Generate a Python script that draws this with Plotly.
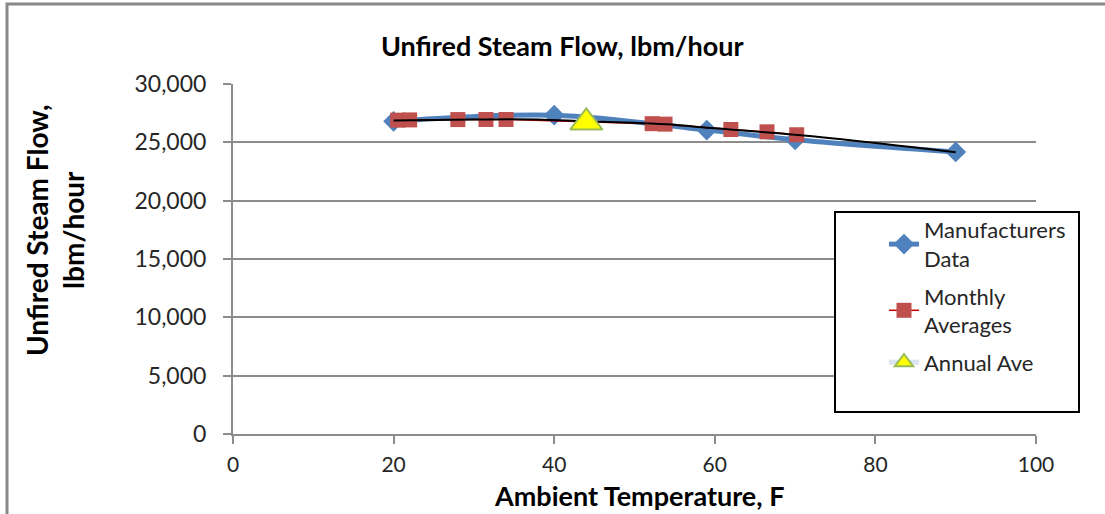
import plotly.graph_objects as go

# ---- data ----
mfr_temp = [20, 40, 59, 70, 90]
mfr_flow = [26800, 27330, 26050, 25220, 24180]

monthly_temp = [20.5, 22.0, 28.0, 31.5, 34.0, 52.2, 53.8, 62.0, 66.5, 70.2]
monthly_flow = [26900, 26920, 26950, 26960, 26960, 26600, 26560, 26100, 25900, 25650]

trend_temp = [20, 30, 38, 44, 50, 54, 60, 70, 80, 90]
trend_flow = [26880, 26960, 26960, 26800, 26680, 26540, 26200, 25650, 24950, 24150]

annual_temp = [44.0]
annual_flow = [26700]

x_ticks = [0, 20, 40, 60, 80, 100]
y_ticks = [0, 5000, 10000, 15000, 20000, 25000, 30000]

FONT = "Lato"
GRID = "#8c8c8c"

W, H = 1105, 514
L, R, T, B = 233, 1036, 84, 434
PW, PH = R - L, B - T


def px(xp):
    return (xp - L) / PW


def py(yp):
    return (B - yp) / PH


fig = go.Figure()

fig.add_trace(go.Scatter(
    x=mfr_temp, y=mfr_flow, name="Manufacturers<br>Data",
    mode="lines+markers",
    line=dict(color="#4f81bd", width=5, shape="spline", smoothing=1),
    marker=dict(symbol="diamond", size=16, color="#4f81bd"),
    legendgroup="a",
))
fig.add_trace(go.Scatter(
    x=monthly_temp, y=monthly_flow, name="Monthly<br>Averages",
    mode="lines+markers",
    line=dict(color="#c00000", width=1.5),
    marker=dict(symbol="square", size=15, color="#c0504d"),
    legendgroup="b",
))
fig.add_trace(go.Scatter(
    x=trend_temp, y=trend_flow, name="trend",
    mode="lines", line=dict(color="#000000", width=2, shape="spline"),
    showlegend=False, hoverinfo="skip",
))
fig.add_trace(go.Scatter(
    x=annual_temp, y=annual_flow, name="Annual Ave",
    mode="lines+markers",
    line=dict(color="#dce6f2", width=5),
    marker=dict(symbol="triangle-up", size=28, color="#ffff00",
                line=dict(color="#9bbb59", width=2)),
    legendgroup="c",
))

fig.update_layout(
    width=W, height=H,
    margin=dict(l=L, r=W - R, t=T, b=H - B),
    paper_bgcolor="white", plot_bgcolor="white",
    font=dict(family=FONT, color="#262626"),
    showlegend=True,
    legend=dict(
        x=px(884), y=py(209), xanchor="left", yanchor="top",
        bgcolor="rgba(0,0,0,0)", borderwidth=0,
        font=dict(family=FONT, size=22, color="#262626"),
        tracegroupgap=6,
    ),
    xaxis=dict(
        range=[0, 100], tickvals=x_ticks, showgrid=False,
        showline=True, linecolor=GRID, linewidth=2,
        ticks="outside", ticklen=8, tickwidth=2, tickcolor=GRID,
        tickfont=dict(family=FONT, size=21, color="#262626"),
        ticklabelstandoff=3,
        zeroline=False, fixedrange=True,
    ),
    yaxis=dict(
        range=[0, 30000], tickvals=y_ticks, tickformat=",",
        showgrid=True, gridcolor=GRID, gridwidth=2,
        showline=True, linecolor=GRID, linewidth=2,
        ticks="outside", ticklen=8, tickwidth=2, tickcolor=GRID,
        tickfont=dict(family=FONT, size=23, color="#262626"),
        ticklabelstandoff=12,
        zeroline=False, fixedrange=True,
    ),
    shapes=[
        dict(type="rect", xref="paper", yref="paper",
             x0=px(7), x1=px(1120), y0=py(530), y1=py(4),
             line=dict(color="#888888", width=3), fillcolor="rgba(0,0,0,0)",
             layer="below"),
        dict(type="rect", xref="paper", yref="paper",
             x0=px(835), x1=px(1079), y0=py(412), y1=py(212),
             line=dict(color="#000000", width=2), fillcolor="white",
             layer="above"),
    ],
    annotations=[
        dict(text="<b>Unfired Steam Flow, lbm/hour</b>", xref="paper", yref="paper",
             x=px(562), y=py(45), xanchor="center", yanchor="middle",
             showarrow=False, font=dict(family=FONT, size=27, color="#000000")),
        dict(text="<b>Ambient Temperature, F</b>", xref="paper", yref="paper",
             x=px(639), y=py(496), xanchor="center", yanchor="middle",
             showarrow=False, font=dict(family=FONT, size=27, color="#000000")),
        dict(text="<b>Unfired Steam Flow,<br>lbm/hour</b>", xref="paper", yref="paper",
             x=px(55), y=py(230), xanchor="center", yanchor="middle", textangle=-90,
             showarrow=False, font=dict(family=FONT, size=28, color="#000000")),
    ],
)

fig.write_html("out.html")
